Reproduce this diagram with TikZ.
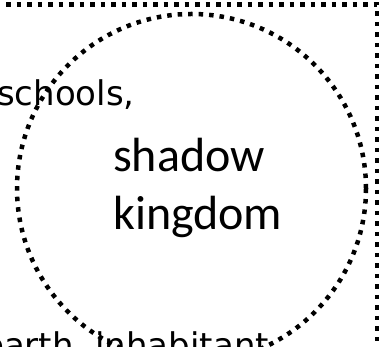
\documentclass[tikz,border=0pt]{standalone}
\usepackage{fontspec}
\newfontfamily\dejavu{DejaVu Sans}
\newfontfamily\carlito{Carlito}

\begin{document}
\begin{tikzpicture}[
    x=1pt, y=1pt,
    every node/.style={
        inner sep=0pt,
        anchor=base west,
        text=black
    },
    dotline/.style={
        draw=black,
        line width=4.5pt,
        dash pattern=on 4.5pt off 6pt
    }
]

\useasboundingbox (0,0) rectangle (382,347);
\clip (0,0) rectangle (382,347);

\node (schools) at (-3,241) {\dejavu\fontsize{34}{40}\selectfont schools,};
\node (shadow) at (113,175) {\carlito\fontsize{48}{58}\selectfont shadow};
\node (kingdom) at (113,117) {\carlito\fontsize{48}{58}\selectfont kingdom};
\node (earth) at (-17,-11) {\dejavu\fontsize{34}{40}\selectfont earth, inhabitant};

\draw[dotline] (-20,-20) rectangle (377,342.5);
\draw[dotline] (191.5,158.5) circle (174.5pt);

\end{tikzpicture}
\end{document}
